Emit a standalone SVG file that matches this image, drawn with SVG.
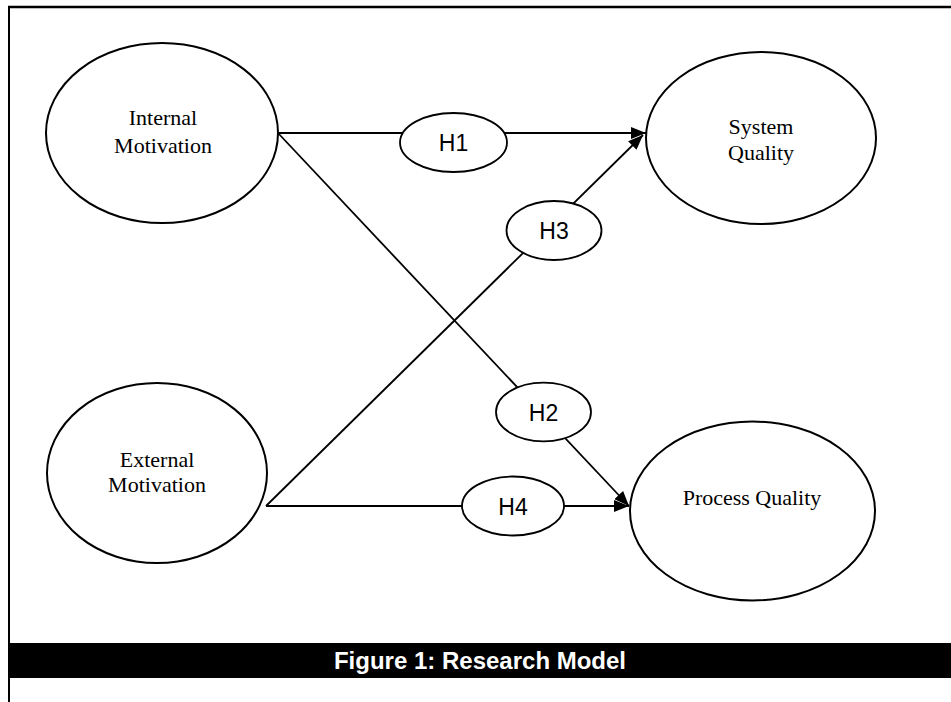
<svg xmlns="http://www.w3.org/2000/svg" width="951" height="702" viewBox="0 0 951 702">
  <style>
    .node { fill: #fff; stroke: #000; stroke-width: 2; }
    .hyp { fill: #fff; stroke: #000; stroke-width: 1.8; }
    .conn { stroke: #000; stroke-width: 1.8; fill: none; }
    .ntext { font-family: "Liberation Serif", "Times New Roman", serif; font-size: 22px; fill: #000; text-anchor: middle; }
    .htext { font-family: "Liberation Sans", Arial, sans-serif; font-size: 23px; fill: #000; text-anchor: middle; }
    .cap { font-family: "Liberation Sans", Arial, sans-serif; font-size: 24px; font-weight: bold; fill: #fff; text-anchor: middle; }
  </style>
  <defs>
    <marker id="arrow" markerUnits="userSpaceOnUse" markerWidth="16" markerHeight="12" refX="15" refY="6" orient="auto">
      <path d="M0,0 L15,6 L0,12 Z" fill="#000"/>
    </marker>
  </defs>
  <rect width="951" height="702" fill="#fff"/>
  <g id="frame">
    <line x1="8" y1="7" x2="951" y2="7" stroke="#000" stroke-width="2.5"/>
    <line x1="9" y1="6" x2="9" y2="702" stroke="#000" stroke-width="2"/>
  </g>
  <g id="connectors">
    <line class="conn" x1="278" y1="133" x2="646" y2="133" marker-end="url(#arrow)"/>
    <line class="conn" x1="278" y1="133" x2="629" y2="506" marker-end="url(#arrow)"/>
    <line class="conn" x1="266" y1="506" x2="643" y2="135" marker-end="url(#arrow)"/>
    <line class="conn" x1="266" y1="506" x2="629" y2="506" marker-end="url(#arrow)"/>
  </g>
  <g id="H1">
    <ellipse class="hyp" cx="453.5" cy="142.5" rx="53.5" ry="29.5"/>
    <text class="htext" x="453.5" y="151">H1</text>
  </g>
  <g id="H3">
    <ellipse class="hyp" cx="554" cy="230.5" rx="47.5" ry="29.5"/>
    <text class="htext" x="554" y="239">H3</text>
  </g>
  <g id="H2">
    <ellipse class="hyp" cx="543.5" cy="412" rx="47.5" ry="29.3"/>
    <text class="htext" x="543.5" y="420.5">H2</text>
  </g>
  <g id="H4">
    <ellipse class="hyp" cx="513" cy="506" rx="51" ry="29.5"/>
    <text class="htext" x="513" y="514.5">H4</text>
  </g>
  <g id="internal-motivation">
    <ellipse class="node" cx="162" cy="133" rx="116" ry="90"/>
    <text class="ntext" x="163" y="125">Internal</text>
    <text class="ntext" x="163" y="153">Motivation</text>
  </g>
  <g id="external-motivation">
    <ellipse class="node" cx="157" cy="473" rx="110" ry="90"/>
    <text class="ntext" x="157" y="467">External</text>
    <text class="ntext" x="157" y="492">Motivation</text>
  </g>
  <g id="system-quality">
    <ellipse class="node" cx="761" cy="138" rx="115" ry="86"/>
    <text class="ntext" x="761" y="134">System</text>
    <text class="ntext" x="761" y="160">Quality</text>
  </g>
  <g id="process-quality">
    <ellipse class="node" cx="752.5" cy="511" rx="122.5" ry="89.5"/>
    <text class="ntext" x="752" y="505">Process Quality</text>
  </g>
  <g id="caption">
    <rect x="10" y="643" width="941" height="35" fill="#000"/>
    <text class="cap" x="480" y="669">Figure 1: Research Model</text>
  </g>
</svg>
